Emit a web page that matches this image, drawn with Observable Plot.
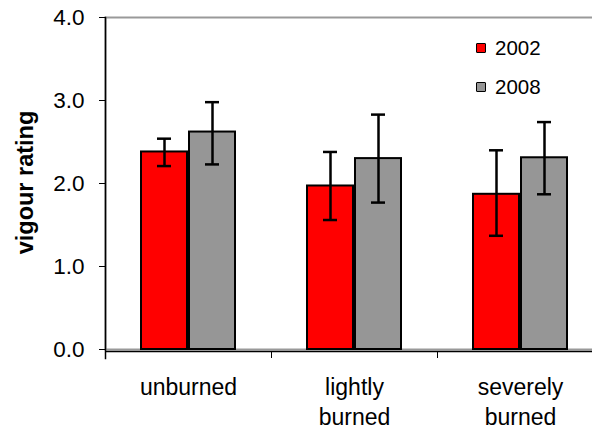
<!DOCTYPE html>
<html>
<head>
<meta charset="utf-8">
<script src="https://cdn.jsdelivr.net/npm/d3@7"></script>
<script src="https://cdn.jsdelivr.net/npm/@observablehq/plot@0.6"></script>
<style>
  body { margin: 0; background: white; }
  #wrap { position: relative; width: 592px; height: 430px; font-family: "Liberation Sans", Arial, sans-serif; }
  .legend { position: absolute; left: 476px; font-size: 20.5px; line-height: 20px; display: flex; align-items: center; }
  .legend .sw { width: 8px; height: 8px; border: 1.5px solid black; border-radius: 1px; margin-right: 9px; }
</style>
</head>
<body>
<div id="wrap"></div>
<script>
// ---- data ----
const groups = ["unburned", "lightly\nburned", "severely\nburned"];
const years = ["2002", "2008"];
const mean2002 = [2.38, 1.97, 1.87];
const mean2008 = [2.62, 2.30, 2.31];
const lo2002 = [2.21, 1.56, 1.37];
const hi2002 = [2.54, 2.38, 2.40];
const lo2008 = [2.23, 1.77, 1.87];
const hi2008 = [2.98, 2.83, 2.74];
const yTicks = [0, 1, 2, 3, 4];
const yLabel = "vigour rating";
const colors = ["#ff0000", "#969696"];

const rows = [];
groups.forEach((g, i) => {
  rows.push({group: g, year: years[0], value: mean2002[i], lo: lo2002[i], hi: hi2002[i]});
  rows.push({group: g, year: years[1], value: mean2008[i], lo: lo2008[i], hi: hi2008[i]});
});

const W = 592, H = 430, mL = 105, mR = -11, mT = 17, mB = 81;
const halfBand = (W - mL - mR) / groups.length / 2;

const chart = Plot.plot({
  width: W, height: H,
  marginLeft: mL, marginRight: mR, marginTop: mT, marginBottom: mB,
  style: {fontFamily: "'Liberation Sans', Arial, sans-serif", fontSize: "20px", color: "black", background: "white", overflow: "visible"},
  fx: {domain: groups, padding: 0},
  x: {domain: years, paddingInner: 2 / 48, paddingOuter: 0.75, axis: null},
  y: {domain: [0, 4]},
  color: {domain: years, range: colors},
  marks: [
    Plot.frame({stroke: "#999", strokeWidth: 2, facet: "super"}),
    Plot.barY(rows, {fx: "group", x: "year", y: "value", fill: "year", stroke: "black", strokeWidth: 2}),
    Plot.ruleX(rows, {fx: "group", x: "year", y1: "lo", y2: "hi", stroke: "black", strokeWidth: 2.5}),
    Plot.tickY(rows, {fx: "group", x: "year", y: "lo", insetLeft: 16, insetRight: 16, stroke: "black", strokeWidth: 2.5}),
    Plot.tickY(rows, {fx: "group", x: "year", y: "hi", insetLeft: 16, insetRight: 16, stroke: "black", strokeWidth: 2.5}),
    Plot.ruleY([0], {stroke: "black", strokeWidth: 1.5, dy: 2}),
    Plot.frame({anchor: "left", facet: "super", stroke: "black", strokeWidth: 1.5, insetBottom: -9}),
    Plot.axisY({ticks: yTicks, tickFormat: d => d.toFixed(1), tickSize: 6, tickPadding: 15, label: null, fontSize: 22.5}),
    Plot.text([yLabel], {frameAnchor: "left", textAnchor: "middle", rotate: -90, dx: -80, dy: -1, fontWeight: "bold", fontSize: 23.5, facet: "super"}),
    Plot.axisFx({anchor: "bottom", tickSize: 7, tickFormat: () => "", dx: -halfBand, dy: 2, label: null}),
    Plot.axisFx({anchor: "bottom", tickSize: 0, tickPadding: 24, lineHeight: 1.3, fontSize: 23, label: null})
  ]
});
const wrap = document.getElementById("wrap");
wrap.appendChild(chart);
[[years[0], colors[0], 38], [years[1], colors[1], 77]].forEach(([t, c, top]) => {
  const d = document.createElement("div");
  d.className = "legend";
  d.style.top = top + "px";
  const sw = document.createElement("span");
  sw.className = "sw";
  sw.style.background = c;
  d.appendChild(sw);
  d.appendChild(document.createTextNode(t));
  wrap.appendChild(d);
});
</script>
</body>
</html>
